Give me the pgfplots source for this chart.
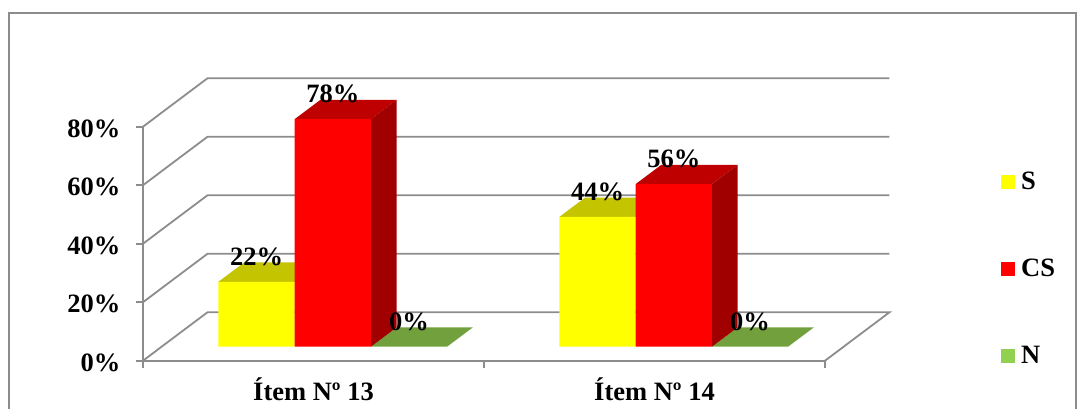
\documentclass[border=0pt]{standalone}
\usepackage{pgfplots}
\pgfplotsset{compat=1.18}
\usepackage{fontspec}
\setmainfont{Liberation Serif}
\definecolor{gridgray}{HTML}{8C8C8C}
\definecolor{yfront}{HTML}{FFFF00}
\definecolor{rfront}{HTML}{FF0000}
\definecolor{ytop}{HTML}{C4C400}
\definecolor{rtop}{HTML}{BE0000}
\definecolor{rside}{HTML}{A00000}
\definecolor{gtop}{HTML}{72A03C}
\definecolor{gleg}{HTML}{92D050}
\newcommand{\lab}{\fontsize{26.5}{28}\selectfont\bfseries}
\pgfplotsset{
  base/.style={scale only axis,width=682pt,height=234pt,
    xmin=0,xmax=2,ymin=0,ymax=80,clip=false,
    /pgf/number format/assume math mode=true},
  wall/.style={gridgray,line width=1.8pt,no markers,forget plot},
  face/.style={draw=none,no markers,forget plot},
  frontbar/.style={ybar,bar width=76.2pt,bar shift=0pt,draw=none,forget plot,
    nodes near coords={\pgfmathprintnumber[fixed,precision=0]{\pgfplotspointmeta}\%},
    nodes near coords style={font=\lab,anchor=center,yshift=25pt}},
}
\begin{document}
\begin{tikzpicture}[x=1pt,y=1pt]
\path[use as bounding box] (-143,-47.3) rectangle (941,360.7);
% walls and floor
\begin{axis}[base,
  axis x line*=bottom,axis y line*=left,
  axis line style={gridgray,line width=1.8pt},
  tick style={gridgray,line width=1.8pt},
  tick align=outside,major tick length=7pt,
  xtick={0,1,2},xticklabels={},
  extra x ticks={0.5,1.5},
  extra x tick labels={Ítem Nº 13,Ítem Nº 14},
  extra x tick style={major tick length=0pt},
  ytick={0,20,40,60,80},
  yticklabel={\pgfmathprintnumber{\tick}\%},
  tick label style={font=\lab},
  xticklabel style={yshift=-14pt},
  yticklabel style={xshift=-12pt,yshift=-2pt},
]
\addplot[wall] coordinates {(0,0) (0.189,16.55) (2.189,16.55) (2,0)};
\addplot[wall] coordinates {(0,20) (0.189,36.55) (2.189,36.55)};
\addplot[wall] coordinates {(0,40) (0.189,56.55) (2.189,56.55)};
\addplot[wall] coordinates {(0,60) (0.189,76.55) (2.189,76.55)};
\addplot[wall] coordinates {(0,80) (0.189,96.55) (2.189,96.55)};
\end{axis}
% bars, drawn on the depth plane of the floor
\begin{axis}[base,at={(19.3pt,14pt)},hide axis,
  legend image code/.code={\fill[#1] (0pt,-7pt) rectangle (14pt,7pt);\path (20pt,0pt);},
  legend cell align=left,
  legend style={at={(1.2298,0.334)},anchor=west,draw=none,fill=none,
    inner sep=0pt,row sep=68pt,font=\lab,
    nodes={inner sep=0pt,outer sep=0pt}},
]
% top and side faces
\addplot[face,fill=ytop] coordinates {(0.1647,22.2) (0.3882,22.2) (0.4636,28.8) (0.2401,28.8)} -- cycle;
\addplot[face,fill=ytop] coordinates {(1.1647,44.4) (1.3882,44.4) (1.4636,51) (1.2401,51)} -- cycle;
\addplot[face,fill=gtop] coordinates {(0.6118,0) (0.8353,0) (0.9107,6.6) (0.6872,6.6)} -- cycle;
\addplot[face,fill=gtop] coordinates {(1.6118,0) (1.8353,0) (1.9107,6.6) (1.6872,6.6)} -- cycle;
\addplot[face,fill=rtop] coordinates {(0.3882,77.8) (0.6118,77.8) (0.6872,84.4) (0.4636,84.4)} -- cycle;
\addplot[face,fill=rtop] coordinates {(1.3882,55.6) (1.6118,55.6) (1.6872,62.2) (1.4636,62.2)} -- cycle;
\addplot[face,fill=rside] coordinates {(0.6118,0) (0.6872,6.6) (0.6872,84.4) (0.6118,77.8)} -- cycle;
\addplot[face,fill=rside] coordinates {(1.6118,0) (1.6872,6.6) (1.6872,62.2) (1.6118,55.6)} -- cycle;
% front faces
\addplot[frontbar,fill=yfront] coordinates {(0.2765,22.2) (1.2765,44.4)};
\addplot[frontbar,fill=rfront] coordinates {(0.5,77.8) (1.5,55.6)};
\addplot[frontbar,fill=gleg] coordinates {(0.7235,0) (1.7235,0)};
\addlegendimage{fill=yfront,draw=none}\addlegendentry{S}
\addlegendimage{fill=rfront,draw=none}\addlegendentry{CS}
\addlegendimage{fill=gleg,draw=none}\addlegendentry{N}
\end{axis}
% chart frame
\draw[gridgray,line width=2pt] (-134,-60) -- (-134,347.7) -- (933,347.7) -- (933,-60);
\end{tikzpicture}
\end{document}
